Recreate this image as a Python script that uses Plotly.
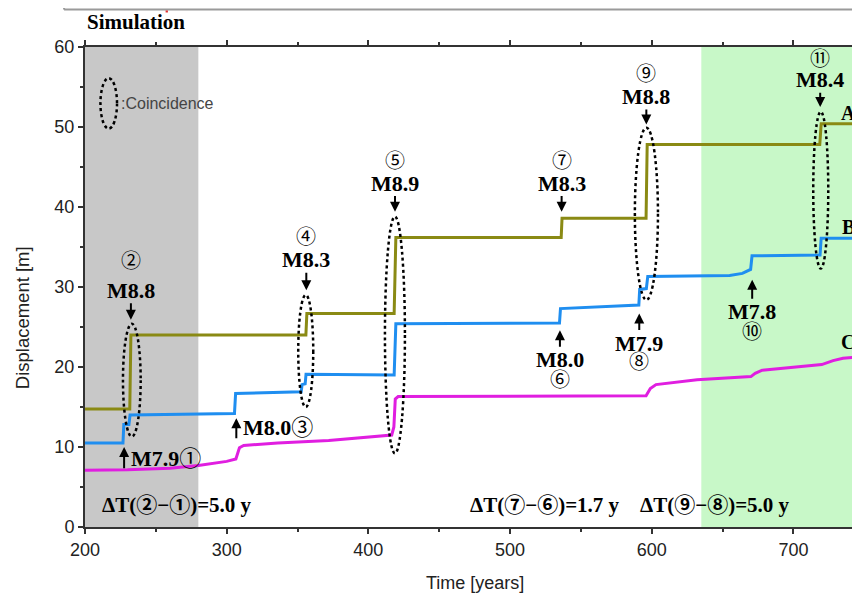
import plotly.graph_objects as go

# ---------------- data ----------------
# Fault segment A (olive)
A_time = [200, 231.6, 232.4, 355.9, 356.6, 418.2, 419.4, 536.1, 536.7, 596.0, 596.8, 718.6, 719.6, 750]
A_disp = [14.75, 14.75, 24.0, 24.0, 26.7, 26.7, 36.2, 36.2, 38.6, 38.6, 47.8, 47.8, 50.4, 50.4]

# Fault segment B (blue)
B_time = [200, 226.8, 227.4, 231.0, 231.8, 305.5, 306.3, 352.6, 353.2, 355.4, 356.0, 418.2, 419.4,
          534.9, 535.6, 590.9, 591.5, 596.2, 597.2, 655, 664, 669.8, 670.8, 718.8, 719.6, 750]
B_disp = [10.5, 10.5, 12.8, 12.8, 14.0, 14.2, 16.7, 16.9, 17.8, 17.9, 19.1, 19.0, 25.4,
          25.5, 27.3, 27.75, 29.7, 29.8, 31.3, 31.45, 31.7, 32.2, 33.9, 34.0, 36.1, 36.1]

# Fault segment C (magenta)
C_time = [200, 230, 260, 280, 300, 306.5, 309, 312, 336, 372, 416.5, 418, 419, 421,
          500, 596, 599, 603, 632, 670, 673, 678, 720, 728, 735, 750]
C_disp = [7.1, 7.15, 7.35, 7.7, 8.2, 8.5, 9.9, 10.2, 10.5, 10.8, 11.5, 12.5, 16.0, 16.3,
          16.35, 16.4, 17.3, 17.8, 18.4, 18.8, 19.2, 19.6, 20.3, 20.8, 21.1, 21.3]

# Earthquake events
event_id = ["①", "②", "③", "④", "⑤", "⑥", "⑦", "⑧", "⑨", "⑩", "⑪"]
event_year = [227.6, 232.4, 306.8, 356.2, 418.8, 535.2, 536.4, 591.2, 596.2, 670.9, 718.9]
event_mag = ["M7.9", "M8.8", "M8.0", "M8.3", "M8.9", "M8.0", "M8.3", "M7.9", "M8.8", "M7.8", "M8.4"]

# Time differences between coincident events
dt_first = ["②", "⑦", "⑨"]
dt_second = ["①", "⑥", "⑧"]
dt_value = [5.0, 1.7, 5.0]

# Highlighted periods
grey_period = [200, 280]
green_period = [635, 760]

# ---------------- styling / placement ----------------
SERIF = "Liberation Serif, Times New Roman, DejaVu Serif, Noto Sans CJK JP, serif"
SANS = "Liberation Sans, Arial, Helvetica, sans-serif"
C_OLIVE = "#8a8a14"
C_BLUE = "#1f8ef0"
C_MAG = "#e01ee0"

# label placement per event: (style, head_y, text_y, number_y)
placement = {
    "①": ("right", 10.0, 7.75, 8.6),
    "②": ("down", 25.9, 29.6, 33.3),
    "③": ("right", 13.6, 11.5, 12.5),
    "④": ("down", 29.6, 33.4, 36.2),
    "⑤": ("down", 39.4, 43.0, 45.8),
    "⑥": ("up", 24.6, 20.9, 18.4),
    "⑦": ("down", 39.4, 43.0, 45.7),
    "⑧": ("up", 26.7, 23.0, 20.6),
    "⑨": ("down", 50.3, 53.8, 56.6),
    "⑩": ("up", 30.9, 26.9, 24.4),
    "⑪": ("down", 52.5, 55.9, 58.5),
}
# coincidence ellipses: (x0, x1, y0, y1)
ellipses = [
    (226.8, 239.3, 11.3, 25.4),
    (350.5, 361.1, 15.0, 29.0),
    (411.7, 425.8, 9.2, 38.8),
    (588.1, 604.4, 28.4, 49.9),
    (714.0, 724.6, 32.3, 51.9),
]

fig = go.Figure()

for t, d, c, name in [(A_time, A_disp, C_OLIVE, "A"), (B_time, B_disp, C_BLUE, "B"), (C_time, C_disp, C_MAG, "C")]:
    fig.add_trace(go.Scatter(x=t, y=d, mode="lines", name=name,
                             line=dict(color=c, width=3), showlegend=False))

shapes = [
    dict(type="rect", xref="x", yref="y", x0=grey_period[0], x1=grey_period[1], y0=0, y1=60,
         fillcolor="#c8c8c8", line=dict(width=0), layer="below"),
    dict(type="rect", xref="x", yref="y", x0=green_period[0], x1=green_period[1], y0=0, y1=60,
         fillcolor="#c8f8c8", line=dict(width=0), layer="below"),
    # legend ellipse
    dict(type="circle", xref="x", yref="y", x0=210.9, x1=222.6, y0=49.8, y1=56.1,
         line=dict(color="black", width=2.5, dash="dot")),
    # frame of the panel above (cropped)
    dict(type="line", xref="paper", yref="paper", x0=-0.027, x1=1.0, y0=1.078, y1=1.078,
         line=dict(color="#9a9a9a", width=2)),
    dict(type="line", xref="paper", yref="paper", x0=-0.027, x1=-0.027, y0=1.078, y1=1.1,
         line=dict(color="#9a9a9a", width=2)),
    dict(type="line", xref="paper", yref="paper", x0=0.104, x1=0.107, y0=1.074, y1=1.074,
         line=dict(color="#e03030", width=2)),
]
for x0, x1, y0, y1 in ellipses:
    shapes.append(dict(type="circle", xref="x", yref="y", x0=x0, x1=x1, y0=y0, y1=y1,
                       line=dict(color="black", width=2.5, dash="dot")))

ann = []
bold = lambda s: "<b>" + s + "</b>"
for eid, yr, mag in zip(event_id, event_year, event_mag):
    style, head, ty, ny = placement[eid]
    if style in ("down", "up"):
        ann.append(dict(x=yr, y=head, xref="x", yref="y", axref="x", ayref="y", ax=yr, ay=ty,
                        text=bold(mag), showarrow=True, arrowhead=2, arrowsize=1, arrowwidth=2,
                        arrowcolor="black", font=dict(family=SERIF, size=22, color="black"),
                        borderpad=0))
        ann.append(dict(x=yr, y=ny, xref="x", yref="y", text=eid, showarrow=False,
                        font=dict(family=SERIF, size=20, color="black")))
    else:
        ann.append(dict(x=yr, y=head, xref="x", yref="y", axref="x", ayref="y", ax=yr, ay=ty - 0.6,
                        text="", showarrow=True, arrowhead=2, arrowsize=1, arrowwidth=2,
                        arrowcolor="black"))
        ann.append(dict(x=yr + 3.2, y=ny, xref="x", yref="y", text=bold(mag) + eid, showarrow=False,
                        xanchor="left", font=dict(family=SERIF, size=22, color="black")))

dt_x = [210.6, 470.3, 590.3]
for a, b, v, xx in zip(dt_first, dt_second, dt_value, dt_x):
    ann.append(dict(x=xx, y=2.75, xref="x", yref="y", xanchor="left", showarrow=False,
                    text=bold("ΔT(" + a + "−" + b + ")=" + f"{v:.1f}" + " y"),
                    font=dict(family=SERIF, size=21, color="black")))

for lab, yy in [("A", 51.75), ("B", 37.5), ("C", 23.1)]:
    ann.append(dict(x=738.6, y=yy, xref="x", yref="y", text=bold(lab), showarrow=False,
                    font=dict(family=SERIF, size=20, color="black")))

ann.append(dict(x=223.8, y=52.9, xref="x", yref="y", xanchor="left", text=":Coincidence",
                showarrow=False, font=dict(family=SANS, size=16, color="#444444")))
ann.append(dict(x=0.0, y=1.052, xref="paper", yref="paper", xanchor="left", yanchor="middle",
                text=bold("Simulation"), showarrow=False,
                font=dict(family=SERIF, size=21, color="black")))
ann.append(dict(x=0.503, y=-0.1167, xref="paper", yref="paper", xanchor="center", yanchor="middle",
                text="Time [years]", showarrow=False, font=dict(family=SANS, size=18, color="#222222")))
ann.append(dict(x=-0.0813, y=0.437, xref="paper", yref="paper", xanchor="center", yanchor="middle",
                text="Displacement [m]", textangle=-90, showarrow=False,
                font=dict(family=SANS, size=18.5, color="#222222")))

# page body has an 8px margin: the figure is sized so that it fits inside the 860x603 window
fig.update_layout(
    width=852, height=587,
    margin=dict(l=77, r=0, t=39, b=68),
    paper_bgcolor="white", plot_bgcolor="white",
    shapes=shapes, annotations=ann,
    xaxis=dict(range=[200, 747], tickvals=[200, 300, 400, 500, 600, 700], showgrid=False, zeroline=False,
               showline=True, linecolor="#333333", linewidth=2, mirror="ticks",
               ticks="outside", ticklen=5, tickwidth=1.5, tickcolor="#333333",
               minor=dict(dtick=50, tick0=200, ticks="outside", ticklen=3, tickcolor="#333333"),
               tickfont=dict(family=SANS, size=18, color="#222222")),
    yaxis=dict(range=[0, 60], tickvals=[0, 10, 20, 30, 40, 50, 60], showgrid=False, zeroline=False,
               showline=True, linecolor="#333333", linewidth=2,
               ticks="outside", ticklen=5, tickwidth=1.5, tickcolor="#333333",
               minor=dict(dtick=5, tick0=0, ticks="outside", ticklen=3, tickcolor="#333333"),
               tickfont=dict(family=SANS, size=18, color="#222222")),
)

fig.write_html("out.html")
